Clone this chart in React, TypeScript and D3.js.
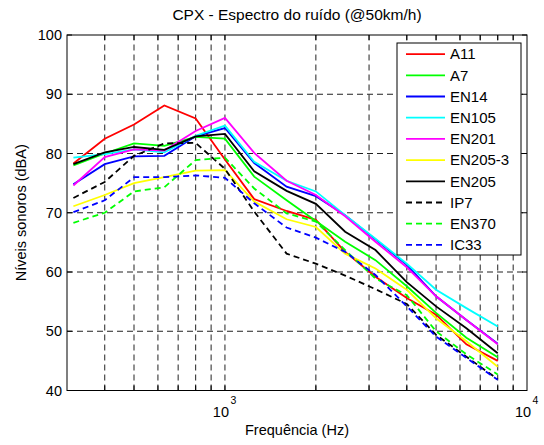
import React from "react";
import * as d3 from "d3";

const freqs = [315, 400, 500, 630, 800, 1000, 1250, 1600, 2000, 2500, 3150, 4000, 5000, 6300, 8000];

const A11 = [78.3, 82.5, 84.9, 88.1, 85.9, 79.0, 72.3, 70.3, 68.8, 63.4, 59.2, 55.6, 52.8, 47.8, 45.0];
const A7 = [78.0, 80.0, 81.7, 81.3, 82.8, 82.5, 76.1, 72.1, 68.6, 65.1, 62.0, 57.6, 53.1, 48.9, 45.6];
const EN14 = [74.8, 78.2, 79.5, 79.6, 82.9, 84.3, 78.4, 74.4, 72.8, 69.6, 65.5, 61.2, 55.9, 51.9, 47.9];
const EN105 = [79.3, 79.9, 80.7, 80.2, 83.0, 84.7, 78.6, 75.4, 73.6, 69.6, 65.6, 61.4, 57.0, 53.9, 50.8];
const EN201 = [74.6, 79.4, 80.7, 80.5, 83.8, 86.0, 80.1, 75.4, 73.0, 69.4, 65.1, 60.8, 55.9, 51.9, 47.8];
const EN205_3 = [71.1, 73.0, 75.0, 76.0, 77.1, 77.2, 71.9, 68.9, 67.6, 63.1, 60.6, 57.0, 52.2, 48.3, 44.0];
const EN205 = [78.2, 80.2, 81.1, 80.6, 82.9, 83.3, 77.0, 73.7, 71.5, 66.8, 63.7, 58.3, 54.2, 50.5, 46.3];
const IP7 = [72.5, 75.2, 79.6, 81.7, 81.8, 77.4, 70.2, 63.1, 61.4, 59.4, 57.1, 54.6, 49.4, 45.7, 41.9];
const EN370 = [68.3, 70.0, 73.6, 74.3, 78.9, 79.3, 74.1, 69.9, 68.5, 63.7, 58.9, 56.1, 50.0, 46.1, 42.7];
const IC33 = [70.1, 72.1, 76.0, 76.0, 76.3, 75.9, 71.6, 67.5, 65.8, 63.4, 59.5, 54.2, 49.1, 45.5, 41.8];

const seriesNames = ["A11", "A7", "EN14", "EN105", "EN201", "EN205-3", "EN205", "IP7", "EN370", "IC33"];
const seriesValues = [A11, A7, EN14, EN105, EN201, EN205_3, EN205, IP7, EN370, IC33];
const seriesColors = ["#ff0000", "#00ff00", "#0000ff", "#00ffff", "#ff00ff", "#ffff00", "#000000", "#000000", "#00ff00", "#0000ff"];
const seriesDashed = [false, false, false, false, false, false, false, true, true, true];

const yTicks = [40, 50, 60, 70, 80, 90, 100];
const xMinorTicks = [400, 500, 600, 700, 800, 900, 2000, 3000, 4000, 5000, 6000, 7000, 8000, 9000];
const xMajorTicks = [1000, 10000];
const xMajorExp = ["3", "4"];

const W = 544, H = 445;
const L = 67, R = 527, T = 35, B = 390.5;
const FONT = "'Liberation Sans', Arial, Helvetica, sans-serif";

export default function App() {
  const x = d3.scaleLog().domain([300, 10000]).range([L, R]);
  const y = d3.scaleLinear().domain([40, 100]).range([B, T]);
  const line = d3.line<number>().x((_, i) => x(freqs[i])).y((v) => y(v));
  const gridDash = "6,4";
  const tickLen = 5;
  const legL = 397, legR = 521, legT = 43, legB = 255;
  const legStep = (legB - legT) / seriesNames.length;

  return (
    <svg width={W} height={H} style={{ position: "absolute", left: 0, top: 0, background: "#fff" }} fontFamily={FONT}>
      <rect x={0} y={0} width={W} height={H} fill="#fff" />
      {/* grid */}
      <g stroke="#222" strokeWidth={1} strokeDasharray={gridDash}>
        {[...xMinorTicks, 1000].map((t) => (
          <line key={"gx" + t} x1={x(t)} x2={x(t)} y1={B} y2={T} />
        ))}
        {yTicks.slice(1, -1).map((t) => (
          <line key={"gy" + t} x1={L} x2={R} y1={y(t)} y2={y(t)} />
        ))}
      </g>
      {/* data */}
      <g fill="none" strokeWidth={1.8}>
        {seriesValues.map((vals, i) => (
          <path key={seriesNames[i]} d={line(vals) || ""} stroke={seriesColors[i]} strokeDasharray={seriesDashed[i] ? "6,4" : undefined} />
        ))}
      </g>
      {/* axes box and ticks */}
      <g stroke="#000" strokeWidth={1}>
        <rect x={L} y={T} width={R - L} height={B - T} fill="none" />
        {[...xMinorTicks, 1000].map((t) => (
          <g key={"tx" + t}>
            <line x1={x(t)} x2={x(t)} y1={B} y2={B - tickLen} />
            <line x1={x(t)} x2={x(t)} y1={T} y2={T + tickLen} />
          </g>
        ))}
        {yTicks.map((t) => (
          <g key={"ty" + t}>
            <line x1={L} x2={L + tickLen} y1={y(t)} y2={y(t)} />
            <line x1={R} x2={R - tickLen} y1={y(t)} y2={y(t)} />
          </g>
        ))}
      </g>
      {/* tick labels */}
      <g fontSize={14.5} fill="#000">
        {yTicks.map((t) => (
          <text key={"ly" + t} x={L - 5} y={y(t) + 5} textAnchor="end">{t}</text>
        ))}
        {xMajorTicks.map((t, i) => (
          <g key={"lx" + t}>
            <text x={x(t) - 4} y={416.5} textAnchor="middle">10</text>
            <text x={x(t) + 5.5} y={404} fontSize={10.5} textAnchor="start">{xMajorExp[i]}</text>
          </g>
        ))}
      </g>
      {/* titles */}
      <text x={(L + R) / 2} y={20} textAnchor="middle" fontSize={15.5}>CPX - Espectro do ruído (@50km/h)</text>
      <text x={(L + R) / 2} y={435} textAnchor="middle" fontSize={14.5}>Frequência (Hz)</text>
      <text transform={`translate(26, ${(T + B) / 2}) rotate(-90)`} textAnchor="middle" fontSize={14.5}>Níveis sonoros (dBA)</text>
      {/* legend */}
      <g>
        <rect x={legL} y={legT} width={legR - legL} height={legB - legT} fill="#fff" stroke="#000" strokeWidth={1} />
        {seriesNames.map((n, i) => {
          const cy = legT + legStep * (i + 0.5) + 0.5;
          return (
            <g key={"lg" + n}>
              <line x1={406} x2={445} y1={cy} y2={cy} stroke={seriesColors[i]} strokeWidth={1.8} strokeDasharray={seriesDashed[i] ? "6,4" : undefined} />
              <text x={450} y={cy + 5.3} fontSize={15}>{n}</text>
            </g>
          );
        })}
      </g>
    </svg>
  );
}
